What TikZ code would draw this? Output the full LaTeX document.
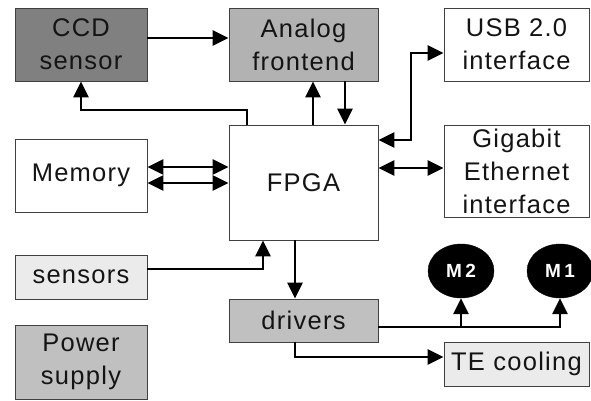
\documentclass[tikz,border=0pt]{standalone}
\usepackage{fontspec}
\setmainfont{Liberation Sans}[LetterSpace=5]
\newfontfamily\motorfont{Liberation Sans}[LetterSpace=18]
\usetikzlibrary{arrows.meta,shapes.geometric,shadows}
\definecolor{ccdgray}{HTML}{808080}
\definecolor{afegray}{HTML}{B2B2B2}
\definecolor{midgray}{HTML}{C0C0C0}
\definecolor{lightgray}{HTML}{EBEBEB}
\definecolor{edgegray}{HTML}{404040}
\definecolor{shadowgray}{HTML}{707070}
\definecolor{inkgray}{HTML}{141414}
\tikzset{
  blk/.style={draw=edgegray, line width=0.9pt, fill=white, text=inkgray,
    align=center, inner sep=0pt,
    font=\fontsize{25.5}{33}\selectfont,
    general shadow={shadow xshift=1.2pt, shadow yshift=-1.2pt, fill=shadowgray}},
  motor/.style={ellipse, fill=black, draw=black, text=white, inner sep=0pt,
    minimum width=66pt, minimum height=54pt,
    font=\motorfont\bfseries\fontsize{19}{21}\selectfont},
  wire/.style={line width=2.8pt, line join=miter},
  arr/.style={wire, -{Triangle[length=16pt, width=15pt]}},
  darr/.style={wire, {Triangle[length=16pt, width=15pt]}-{Triangle[length=16pt, width=15pt]}},
}
\begin{document}
\begin{tikzpicture}[x=1pt, y=-1pt]
\useasboundingbox (0,0) rectangle (591,401);

% blocks
\node[blk, fill=ccdgray, minimum width=132pt, minimum height=73pt] (ccd) at (81,44.5) {CCD\\sensor};
\node[blk, fill=afegray, minimum width=149pt, minimum height=73pt] (afe) at (303.5,44.5) {Analog\\frontend};
\node[blk, minimum width=145pt, minimum height=73pt] (usb) at (516.5,44.5) {USB 2.0\\interface};
\node[blk, minimum width=149pt, minimum height=115pt] (fpga) at (303.5,182.5) {FPGA};
\node[blk, minimum width=145pt, minimum height=92pt] (gig) at (516.5,171) {Gigabit\\Ethernet\\interface};
\node[blk, minimum width=132pt, minimum height=73pt] (mem) at (81,175.5) {Memory};
\node[blk, fill=lightgray, minimum width=132pt, minimum height=44pt] (sens) at (81,277) {sensors};
\node[blk, fill=midgray, minimum width=132pt, minimum height=74pt] (pwr) at (81,362) {Power\\supply};
\node[blk, fill=midgray, minimum width=149pt, minimum height=43pt] (drv) at (303.5,320.5) {drivers};
\node[blk, fill=lightgray, minimum width=145pt, minimum height=44pt] (te) at (516.5,364) {TE cooling};
\node[motor] (m2) at (461,271) {M2};
\node[motor] (m1) at (560,271) {M1};

% signal paths
\draw[arr] (ccd.east |- 0,38) -- (afe.west |- 0,38);
\draw[arr] (fpga.north -| 247,0) |- (81,110) -- (ccd.south -| 81,0);
\draw[arr] (fpga.north -| 313,0) -- (afe.south -| 313,0);
\draw[arr] (afe.south -| 345,0) -- (fpga.north -| 345,0);
\draw[darr] (fpga.east |- 0,140) -| (411,53) -- (usb.west |- 0,53);
\draw[darr] (fpga.east |- 0,168) -- (gig.west |- 0,168);
\draw[darr] (mem.east |- 0,167) -- (fpga.west |- 0,167);
\draw[darr] (mem.east |- 0,183) -- (fpga.west |- 0,183);
\draw[arr] (sens.east |- 0,269) -| (fpga.south -| 263,0);
\draw[arr] (fpga.south -| 295,0) -- (drv.north -| 295,0);
\coordinate (split) at (m2.south |- 0,327);
\draw[arr] (drv.east |- 0,327) -| (m1.south);
\draw[arr] (split) -- (m2.south);
\draw[arr] (drv.south -| 295,0) |- (te.west |- 0,357);
\end{tikzpicture}
\end{document}
